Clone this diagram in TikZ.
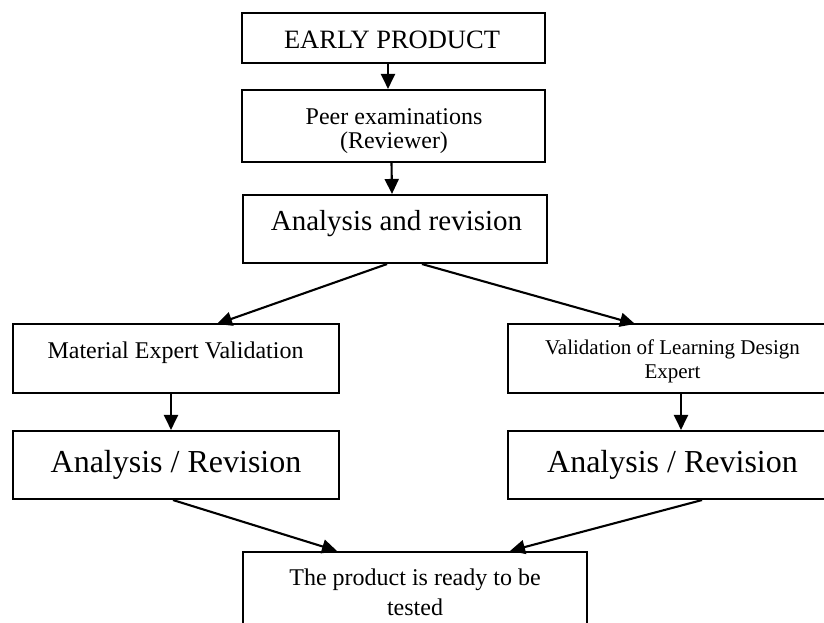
\documentclass[tikz,border=0pt]{standalone}
\usepackage{fontspec}
\setmainfont{Liberation Serif}
\usetikzlibrary{arrows.meta}
\tikzset{
  boxnode/.style={draw, line width=2.1pt, rectangle, inner sep=0pt},
  txt/.style={anchor=base, inner sep=0pt, align=center},
  arr/.style={line width=2.1pt, -{Triangle[length=15pt,width=14pt]}},
}
\begin{document}
\begin{tikzpicture}[x=1pt,y=-1pt]
\useasboundingbox (0,0) rectangle (824,623);
\clip (0,0) rectangle (824,623);
% boxes
\node[boxnode, minimum width=303pt, minimum height=50pt] (b1) at (393.5,38) {};
\node[boxnode, minimum width=303pt, minimum height=72pt] (b2) at (393.5,126) {};
\node[boxnode, minimum width=304pt, minimum height=68pt] (b3) at (395,229) {};
\node[boxnode, minimum width=326pt, minimum height=69pt] (b4) at (176,358.5) {};
\node[boxnode, minimum width=329pt, minimum height=69pt] (b5) at (672.5,358.5) {};
\node[boxnode, minimum width=326pt, minimum height=68pt] (b6) at (176,465) {};
\node[boxnode, minimum width=329pt, minimum height=68pt] (b7) at (672.5,465) {};
\node[boxnode, minimum width=344pt, minimum height=110pt] (b8) at (415,607) {};
% texts
\node[txt, font=\fontsize{26.5}{26.5}\selectfont] (t1) at (392,49) {EARLY PRODUCT};
\node[txt, font=\fontsize{24}{24}\selectfont] (t2) at (394,148) {Peer examinations\\(Reviewer)};
\node[txt, font=\fontsize{29}{29}\selectfont] (t3) at (396.5,230) {Analysis and revision};
\node[txt, font=\fontsize{24}{24}\selectfont] (t4) at (175.5,358) {Material Expert Validation};
\node[txt, font=\fontsize{21}{24}\selectfont] (t5) at (672.5,378) {Validation of Learning Design\\Expert};
\node[txt, font=\fontsize{32}{32}\selectfont] (t6) at (176,472) {Analysis / Revision};
\node[txt, font=\fontsize{32}{32}\selectfont] (t7) at (672.5,472) {Analysis / Revision};
\node[txt, font=\fontsize{24}{30}\selectfont] (t8) at (415,615) {The product is ready to be\\tested};
% connectors
\draw[arr] ([xshift=-5.5pt]b1.south) -- ([xshift=-5.5pt]b2.north);
\draw[arr] ([xshift=-2pt]b2.south) -- ([xshift=-3pt]b3.north);
\draw[arr] ([xshift=-8pt]b3.south) -- ([xshift=41pt,yshift=-1pt]b4.north);
\draw[arr] ([xshift=27pt]b3.south) -- ([xshift=-37.5pt,yshift=-1pt]b5.north);
\draw[arr] ([xshift=-5pt]b4.south) -- ([xshift=-5pt]b6.north);
\draw[arr] ([xshift=8.5pt]b5.south) -- ([xshift=8.5pt]b7.north);
\draw[arr] ([xshift=-3pt]b6.south) -- ([xshift=-78pt]b8.north);
\draw[arr] ([xshift=29.5pt]b7.south) -- ([xshift=95pt]b8.north);
\end{tikzpicture}
\end{document}
